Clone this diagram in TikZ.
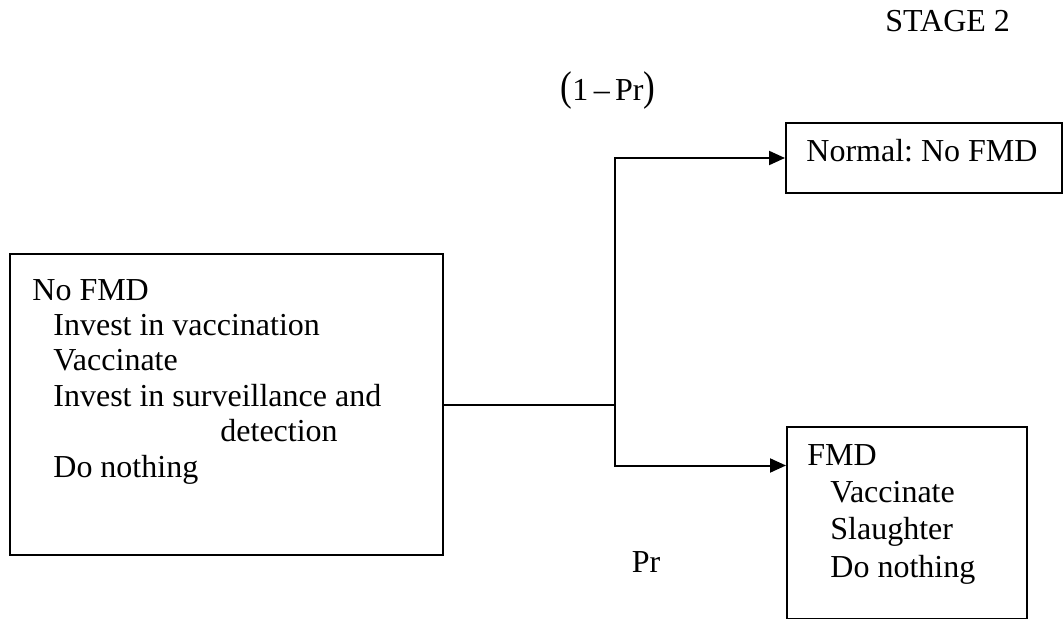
\documentclass[tikz,border=0pt]{standalone}
\usepackage{fontspec}
\setmainfont{Liberation Serif}
\usetikzlibrary{arrows.meta,positioning,calc}
\frenchspacing

\tikzset{
 box/.style={draw, line width=1pt, inner sep=0pt, anchor=north west},
 lbl/.style={inner sep=0pt, anchor=base west, align=left, font=\fontsize{16}{18}\selectfont},
 branch/.style={line width=1pt},
 arr/.style={line width=1pt, -{Triangle[length=8pt,width=7pt]}}
}

\begin{document}
\begin{tikzpicture}[x=0.5pt, y=-0.5pt]
\useasboundingbox (0,0) rectangle (1063,619);

%stage title
\node[lbl] (stage) at (885,32) {STAGE 2};

%boxes:
\node[box, minimum width=216.5pt, minimum height=150.5pt] (nofmd) at (9,253) {};
\node[box, minimum width=138pt, minimum height=35pt] (normal) at (785,122) {};
\node[box, minimum width=120pt, minimum height=96pt] (fmd) at (786,426) {};

% text placed by the baseline of its last line
\node[lbl, font=\fontsize{16}{17.7}\selectfont] (nofmdtxt) at (32,477) {No FMD\\
 \hspace*{10.5pt}Invest in vaccination\\
 \hspace*{10.5pt}Vaccinate\\
 \hspace*{10.5pt}Invest in surveillance and\\
 \hspace*{94pt}detection\\
 \hspace*{10.5pt}Do nothing};
\node[lbl] (normaltxt) at (806,162) {Normal: No FMD};
\node[lbl, font=\fontsize{16}{18.6}\selectfont] (fmdtxt) at (807,577) {FMD\\
 \hspace*{11.5pt}Vaccinate\\
 \hspace*{11.5pt}Slaughter\\
 \hspace*{11.5pt}Do nothing};

%branches:
\path (nofmd.east) -- ++(171,0) coordinate (split);
\coordinate (up) at (split |- normal.west);
\path (split) -- ++(0,61) coordinate (down);
\coordinate (fmdin) at (fmd.west |- down);

\draw[branch] (nofmd.east) -- (split);
\draw[arr] (split) -- (up) -- (normal.west);
\draw[arr] (split) -- (down) -- (fmdin);

\node[lbl, anchor=base] (pnot) at (608,101) {\scalebox{1.1}[1.3]{(}1\,–\,Pr\scalebox{1.1}[1.3]{)}};
\node[lbl, anchor=base] (pyes) at (646,572) {Pr};

\end{tikzpicture}
\end{document}
